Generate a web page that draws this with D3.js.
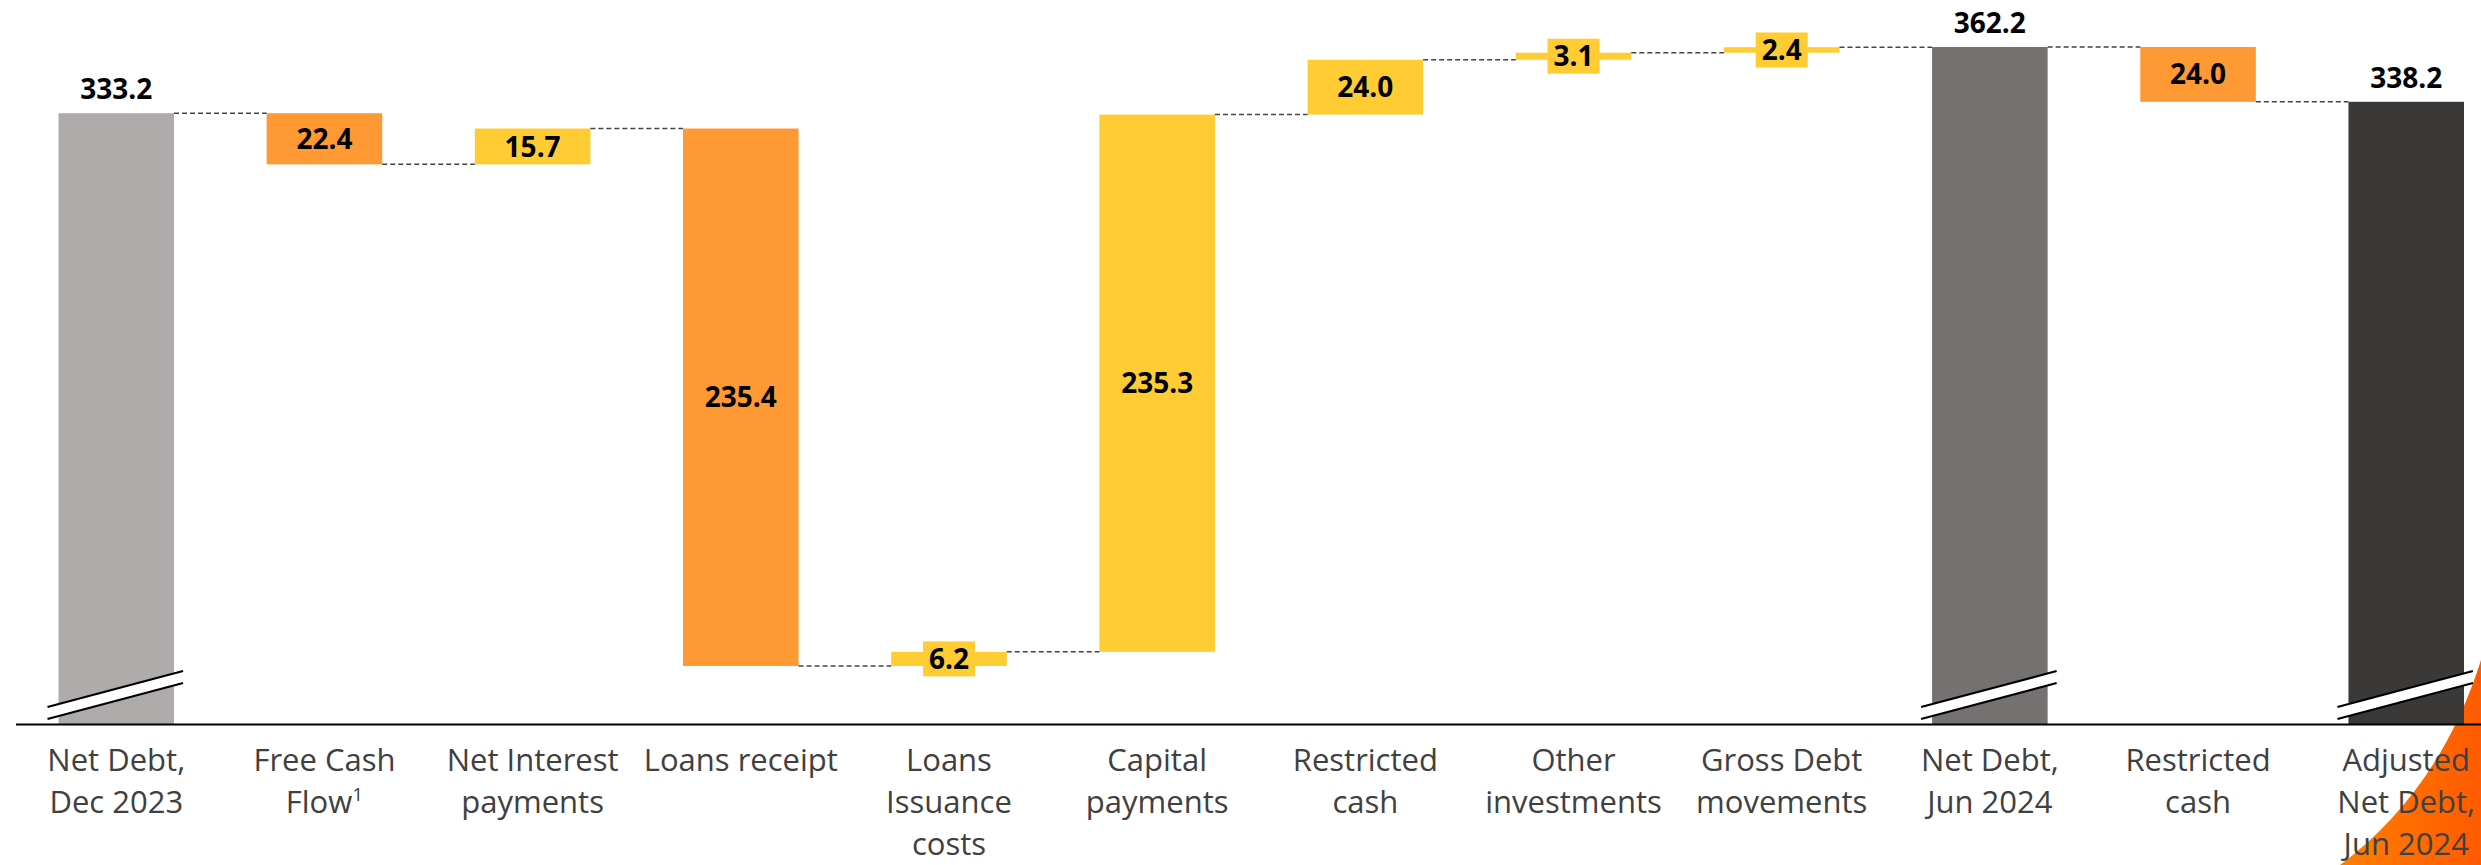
<!DOCTYPE html>
<html>
<head>
<meta charset="utf-8">
<script src="https://cdn.jsdelivr.net/npm/d3@7"></script>
<style>
    body { margin: 0; background: #ffffff; }
    svg { display: block; }
    .cat-label { font-family: "Open Sans", sans-serif; font-size: 31px; fill: #404040; }
    .val-label { font-family: "Open Sans", sans-serif; font-size: 28px; font-weight: 700; fill: #000000; }
</style>
</head>
<body>
<div id="chart"></div>
<script>
// Chart data
const categories = [
    "Net Debt,\nDec 2023", "Free Cash\nFlow^1", "Net Interest\npayments", "Loans receipt",
    "Loans\nIssuance\ncosts", "Capital\npayments", "Restricted\ncash", "Other\ninvestments",
    "Gross Debt\nmovements", "Net Debt,\nJun 2024", "Restricted\ncash", "Adjusted\nNet Debt,\nJun 2024"
];
const values = [333.2, -22.4, 15.7, -235.4, 6.2, 235.3, 24.0, 3.1, 2.4, 362.2, -24.0, 338.2];
const kinds = ["total", "step", "step", "step", "step", "step", "step", "step", "step", "total", "step", "total"];
const totalColors = ["#AFABAB", "#767171", "#3B3838"];
const upColor = "#FFCC33";
const downColor = "#FF9933";

// value sitting on the (broken) axis line
const axisFloor = 65.7;

const width = 2481, height = 865;
const axisY = 724;

const svg = d3.select("#chart").append("svg")
    .attr("width", width)
    .attr("height", height);

// Scales
const x = d3.scaleBand()
    .domain(d3.range(categories.length))
    .range([58.5, 2464])
    .paddingInner(0.445)
    .paddingOuter(0);

const y = d3.scaleLinear()
    .domain([axisFloor, 362.2])
    .range([axisY, 47]);

// Build waterfall rows
let running = 0;
let totalIdx = 0;
const rows = values.map((v, i) => {
    let row;
    if (kinds[i] === "total") {
        row = {i, v, lo: axisFloor, hi: v, end: v, color: totalColors[totalIdx++], kind: "total"};
        running = v;
    } else {
        const next = running + v;
        row = {i, v, lo: Math.min(running, next), hi: Math.max(running, next), end: next,
            color: v < 0 ? downColor : upColor, kind: "step"};
        running = next;
    }
    return row;
});

// Decorative corner shape
const defs = svg.append("defs");
const grad = defs.append("linearGradient").attr("id", "cornerGrad")
    .attr("x1", "0%").attr("x2", "100%").attr("y1", "0%").attr("y2", "0%");
grad.append("stop").attr("offset", "0%").attr("stop-color", "#FF7F00");
grad.append("stop").attr("offset", "100%").attr("stop-color", "#FF5A00");

svg.append("path")
    .attr("d", "M2481,660 Q2440,790 2340,865 L2481,865 Z")
    .attr("fill", "url(#cornerGrad)");

// Bars
svg.selectAll(".bar")
    .data(rows)
    .enter().append("rect")
    .attr("class", "bar")
    .attr("x", d => x(d.i))
    .attr("y", d => y(d.hi))
    .attr("width", x.bandwidth())
    .attr("height", d => y(d.lo) - y(d.hi))
    .attr("fill", d => d.color);

// Connectors
svg.selectAll(".connector")
    .data(rows.slice(0, -1))
    .enter().append("line")
    .attr("class", "connector")
    .attr("x1", d => x(d.i) + x.bandwidth())
    .attr("x2", d => x(d.i + 1))
    .attr("y1", d => y(d.end))
    .attr("y2", d => y(d.end))
    .attr("stroke", "#444444")
    .attr("stroke-width", 1.5)
    .attr("stroke-dasharray", "5,3");

// Axis break marks on total bars
const breaks = svg.selectAll(".break")
    .data(rows.filter(d => d.kind === "total"))
    .enter().append("g")
    .attr("class", "break");

breaks.append("path")
    .attr("d", d => {
        const x0 = x(d.i) - 11, x1 = x(d.i) + x.bandwidth() + 9;
        return `M${x0},${axisY - 17} L${x1},${axisY - 53} L${x1},${axisY - 41} L${x0},${axisY - 5} Z`;
    })
    .attr("fill", "#ffffff");

breaks.selectAll("line")
    .data(d => [0, 12].map(off => ({d, off})))
    .enter().append("line")
    .attr("x1", e => x(e.d.i) - 11)
    .attr("x2", e => x(e.d.i) + x.bandwidth() + 9)
    .attr("y1", e => axisY - 5 - e.off)
    .attr("y2", e => axisY - 41 - e.off)
    .attr("stroke", "#000000")
    .attr("stroke-width", 2.2);

// Axis line
svg.append("line")
    .attr("x1", 16).attr("x2", width)
    .attr("y1", axisY + 0.5).attr("y2", axisY + 0.5)
    .attr("stroke", "#000000")
    .attr("stroke-width", 2);

// Value labels
rows.forEach(d => {
    const cx = x(d.i) + x.bandwidth() / 2;
    const txt = Math.abs(d.v).toFixed(1);
    if (d.kind === "total") {
        svg.append("text").attr("class", "val-label")
            .attr("x", cx).attr("y", y(d.hi) - 14)
            .attr("text-anchor", "middle")
            .text(txt);
        return;
    }
    const cy = (y(d.lo) + y(d.hi)) / 2;
    const barH = y(d.lo) - y(d.hi);
    const g = svg.append("g");
    const t = g.append("text").attr("class", "val-label")
        .attr("x", cx).attr("y", cy)
        .attr("dy", "0.36em")
        .attr("text-anchor", "middle")
        .text(txt);
    if (barH < 30) {
        const w = t.node().getComputedTextLength() + 12;
        g.insert("rect", "text")
            .attr("x", cx - w / 2).attr("y", cy - 17.5)
            .attr("width", w).attr("height", 35)
            .attr("fill", d.color);
    }
});

// Category labels
categories.forEach((c, i) => {
    const cx = x(i) + x.bandwidth() / 2;
    const t = svg.append("text").attr("class", "cat-label")
        .attr("text-anchor", "middle");
    c.split("\n").forEach((line, k) => {
        const parts = line.split("^");
        const ts = t.append("tspan").attr("x", cx).attr("y", 771 + k * 42);
        ts.append("tspan").text(parts[0]);
        if (parts[1]) {
            ts.append("tspan").attr("dy", -12).style("font-size", "19px").text(parts[1]);
        }
    });
});
</script>
</body>
</html>
